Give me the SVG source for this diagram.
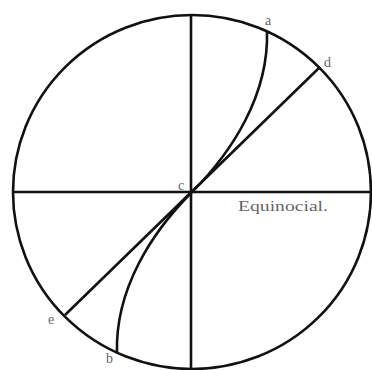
<svg xmlns="http://www.w3.org/2000/svg" width="372" height="370" viewBox="0 0 372 370">
<style>
.ln{fill:none;stroke:#111;stroke-width:2.6}
.lb{font-family:"Liberation Serif",serif;fill:#666;font-size:14px}
</style>
<rect width="372" height="370" fill="#fff"/>
<g id="circle"><ellipse class="ln" cx="192" cy="192" rx="179" ry="177"/></g>
<g id="connectors">
<line class="ln" x1="13" y1="192" x2="372" y2="192"/>
<line class="ln" x1="191" y1="15" x2="191" y2="369"/>
<line class="ln" x1="65" y1="315" x2="320" y2="67"/>
<path class="ln" d="M267 31 C269 95 232 152 192 192 C152 232 115 289 117 353"/>
</g>
<g id="labels">
<text class="lb" x="265" y="25">a</text>
<text class="lb" x="324" y="67">d</text>
<text class="lb" x="178" y="190">c</text>
<text class="lb" x="48" y="324">e</text>
<text class="lb" x="106" y="363">b</text>
<text class="lb" x="238" y="211" font-size="18" textLength="90" lengthAdjust="spacingAndGlyphs">Equinocial.</text>
</g>
</svg>
